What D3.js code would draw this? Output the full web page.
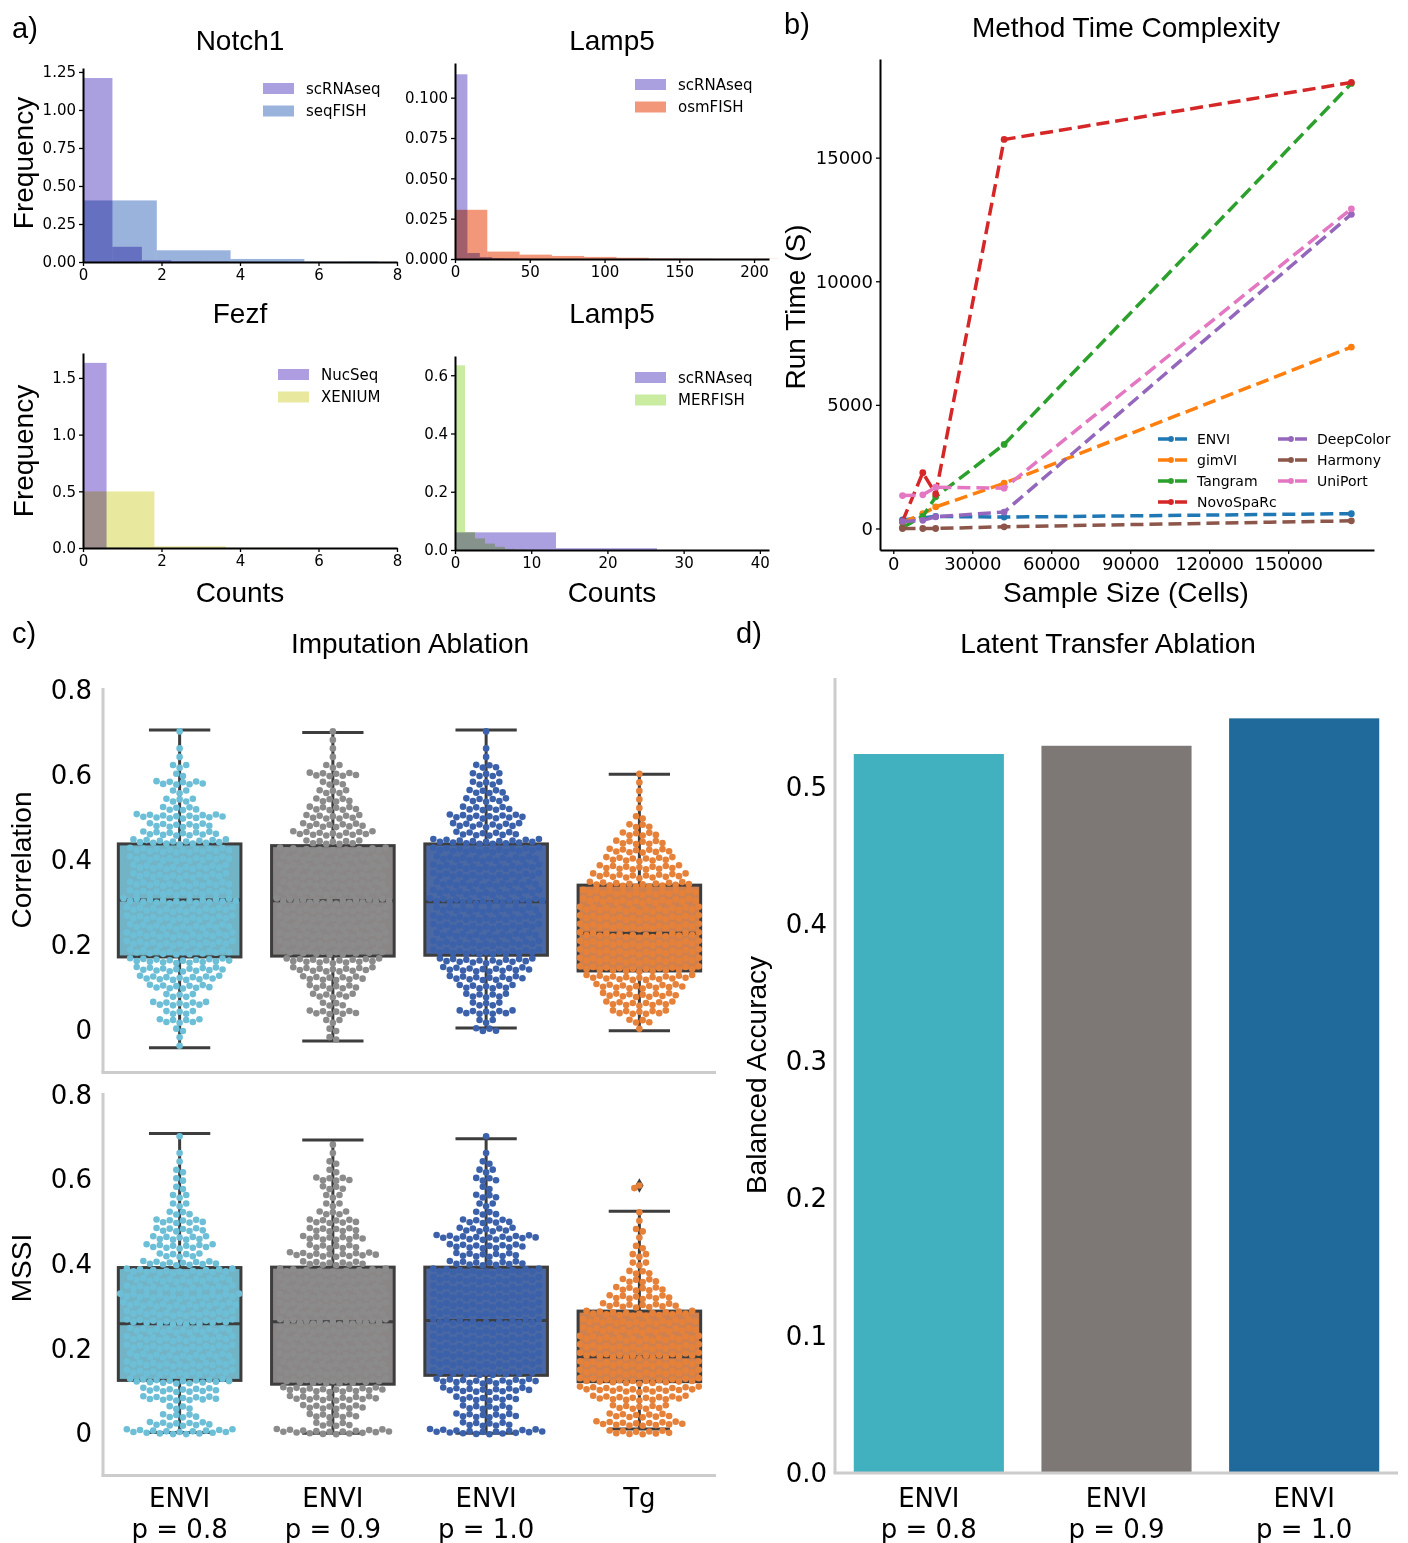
<!DOCTYPE html>
<html>
<head>
<meta charset="utf-8">
<script src="https://cdn.jsdelivr.net/npm/d3@7"></script>
<style>
  body { margin: 0; background: #fff; }
  svg { display: block; }
</style>
</head>
<body>
<script>
// ---------- panel a: histograms (bin edges + frequency per bin)
const notch1ScEdges = [0, 0.75, 1.5, 2.25, 3.0, 3.75, 4.5, 5.25, 6.0, 6.75, 7.5]
const notch1ScFreq = [1.21, 0.10, 0.012, 0.004, 0.002, 0.001, 0.001, 0, 0, 0.001]
const notch1SeqEdges = [0, 1.88, 3.76, 5.64, 7.52]
const notch1SeqFreq = [0.405, 0.077, 0.020, 0.003]

const lamp5ScEdges = [0, 8.3, 16.6, 24.9, 33.2, 41.5, 49.8, 58.1, 66.4, 74.7, 83]
const lamp5ScFreq = [0.1145, 0.0037, 0.0012, 0.0005, 0.0003, 0.0002, 0.0001, 0.0001, 0, 0.0001]
const lamp5OsmEdges = [0, 21.6, 43.2, 64.8, 86.4, 108, 129.6, 151.2, 172.8, 194.4, 216]
const lamp5OsmFreq = [0.0305, 0.0046, 0.0027, 0.0019, 0.0013, 0.0008, 0.0003, 0.0002, 0.0001, 0.0001]

const fezfNucEdges = [0, 0.6, 1.2, 1.8, 2.4, 3.0, 3.6, 4.2, 4.8, 5.4, 6.0]
const fezfNucFreq = [1.633, 0.002, 0.001, 0, 0, 0, 0, 0, 0, 0.0005]
const fezfXenEdges = [0, 1.82, 3.64, 5.46, 7.28]
const fezfXenFreq = [0.499, 0.015, 0.002, 0.0005]

const lamp5bScEdges = [0, 13.25, 26.5]
const lamp5bScFreq = [0.0606, 0.0062]
const lamp5bMerEdges = [0, 1.31, 2.62, 3.93, 5.24, 6.55, 7.86, 9.17, 10.48, 11.79, 13.1]
const lamp5bMerFreq = [0.634, 0.062, 0.040, 0.022, 0.011, 0.004, 0.002, 0.001, 0.0005, 0.0003]

// ---------- panel b: run time (s) vs sample size
const sampleSizes = [3500, 11200, 16100, 42100, 174000]
const methodNames = ['ENVI', 'gimVI', 'Tangram', 'NovoSpaRc', 'DeepColor', 'Harmony', 'UniPort']
const enviTime = [350, 420, 490, 460, 600]
const gimviTime = [245, 600, 870, 1830, 7340]
const tangramTime = [40, 490, 1280, 3400, 18000]
const novosparcTime = [285, 2255, 1400, 15735, 18040]
const deepcolorTime = [285, 330, 475, 665, 12710]
const harmonyTime = [0, 0, 0, 70, 310]
const uniportTime = [1330, 1360, 1670, 1630, 12930]

// ---------- panel c: box stats [low whisker, q1, median, q3, high whisker] + swarm counts per 0.02 bin
const ablationGroups = ['ENVI|p = 0.8', 'ENVI|p = 0.9', 'ENVI|p = 1.0', 'Tg']
const binStep = 0.02

const corrBoxes = [
  [-0.042, 0.172, 0.306, 0.438, 0.706],
  [-0.026, 0.174, 0.304, 0.434, 0.700],
  [0.005, 0.176, 0.302, 0.438, 0.706],
  [-0.002, 0.139, 0.228, 0.341, 0.602]
]
const corrStarts = [-0.04, -0.02, 0, 0]
const corrCounts = [
  [1, 1, 2, 7, 5, 9, 5, 10, 13, 14, 16, 16, 17, 17, 16, 17, 17, 18, 16, 16, 15, 15, 16, 16, 15, 12, 10, 14, 6, 5, 3, 8, 2, 3, 1, 1, 0, 1],
  [2, 2, 3, 8, 4, 7, 8, 10, 13, 15, 16, 17, 17, 16, 17, 17, 18, 17, 16, 16, 17, 16, 17, 9, 13, 10, 9, 8, 6, 5, 4, 8, 3, 1, 1, 1, 1],
  [4, 3, 9, 5, 7, 9, 12, 14, 15, 17, 17, 16, 17, 17, 16, 18, 17, 16, 17, 17, 16, 17, 17, 10, 11, 12, 8, 7, 6, 5, 5, 4, 1, 1, 0, 1],
  [1, 4, 9, 11, 12, 14, 17, 19, 19, 19, 19, 19, 19, 19, 19, 18, 18, 16, 15, 13, 11, 10, 8, 6, 4, 2, 1, 1, 1, 1, 1]
]

const mssiBoxes = [
  [0.002, 0.125, 0.259, 0.392, 0.709],
  [0.0, 0.116, 0.264, 0.393, 0.694],
  [0.0, 0.137, 0.267, 0.393, 0.697],
  [0.01, 0.122, 0.181, 0.289, 0.525]
]
const mssiOutliers = [[], [], [], [0.586, 0.58]]
const mssiStarts = [0, 0, 0, 0]
const mssiCounts = [
  [17, 10, 6, 4, 12, 12, 16, 17, 17, 16, 17, 17, 16, 17, 17, 18, 19, 17, 16, 17, 12, 7, 11, 9, 8, 8, 4, 3, 3, 2, 2, 2, 1, 1, 0, 1],
  [18, 6, 8, 10, 14, 16, 17, 17, 16, 17, 17, 16, 17, 17, 16, 17, 17, 16, 17, 17, 10, 14, 8, 10, 8, 8, 5, 3, 3, 4, 6, 2, 2, 1, 1],
  [18, 8, 10, 8, 10, 14, 16, 17, 17, 17, 17, 17, 17, 17, 17, 17, 17, 17, 17, 17, 12, 10, 12, 16, 9, 8, 4, 3, 4, 2, 4, 3, 2, 1, 0, 1],
  [10, 14, 10, 9, 15, 19, 19, 19, 19, 19, 19, 19, 18, 18, 17, 12, 10, 8, 6, 4, 3, 3, 2, 1, 2, 1, 1]
]

// ---------- panel d: balanced accuracy
const latentGroups = ['ENVI|p = 0.8', 'ENVI|p = 0.9', 'ENVI|p = 1.0']
const latentAccuracy = [0.524, 0.530, 0.550]

// ---------- drawing
const W = 1408
const H = 1543
const headFont = "'Liberation Sans', Arial, Helvetica, sans-serif"
const tickFont = "'DejaVu Sans', sans-serif"

const svg = d3.select('body').append('svg')
  .attr('width', W)
  .attr('height', H)
  .attr('viewBox', `0 0 ${W} ${H}`)

function label (x, y, text, size, opts = {}) {
  const t = svg.append('text')
    .attr('x', x)
    .attr('y', y)
    .attr('font-family', opts.family || headFont)
    .attr('font-size', size)
    .attr('text-anchor', opts.anchor || 'middle')
    .attr('fill', '#000')
    .text(text)
  if (opts.rotate) t.attr('transform', `rotate(-90,${x},${y})`)
  return t
}

function styleAxis (sel, size, family) {
  sel.attr('font-size', size).attr('font-family', family)
  sel.selectAll('text').attr('fill', '#000')
}

// panel letters
label(12, 38, 'a)', 29, { anchor: 'start' })
label(784, 34, 'b)', 29, { anchor: 'start' })
label(12, 643, 'c)', 29, { anchor: 'start' })
label(736, 643, 'd)', 29, { anchor: 'start' })

// ---------- panel a
const histPanels = [
  {
    title: 'Notch1', left: 83, right: 397, top: 68, bottom: 262, titleY: 50,
    xDomain: [0, 8], yDomain: [0, 1.276], xTicks: [0, 2, 4, 6, 8],
    yTicks: [0, 0.25, 0.5, 0.75, 1.0, 1.25], yFormat: '.2f',
    legendX: 263, legendY: 83, ylabelY: 163, xlabel: false,
    series: [
      { name: 'scRNAseq', color: '#aa9fdf', edges: notch1ScEdges, freq: notch1ScFreq },
      { name: 'seqFISH', color: '#99b3dc', edges: notch1SeqEdges, freq: notch1SeqFreq }
    ]
  },
  {
    title: 'Lamp5', left: 455, right: 769, top: 63, bottom: 259, titleY: 50,
    xDomain: [0, 210], yDomain: [0, 0.1215], xTicks: [0, 50, 100, 150, 200],
    yTicks: [0, 0.025, 0.05, 0.075, 0.1], yFormat: '.3f',
    legendX: 635, legendY: 79, ylabelY: null, xlabel: false,
    series: [
      { name: 'scRNAseq', color: '#aa9fdf', edges: lamp5ScEdges, freq: lamp5ScFreq },
      { name: 'osmFISH', color: '#f2977a', edges: lamp5OsmEdges, freq: lamp5OsmFreq }
    ]
  },
  {
    title: 'Fezf', left: 83, right: 397, top: 353, bottom: 548, titleY: 323,
    xDomain: [0, 8], yDomain: [0, 1.72], xTicks: [0, 2, 4, 6, 8],
    yTicks: [0, 0.5, 1.0, 1.5], yFormat: '.1f',
    legendX: 278, legendY: 369, ylabelY: 451, xlabel: true,
    series: [
      { name: 'NucSeq', color: '#ae9de0', edges: fezfNucEdges, freq: fezfNucFreq },
      { name: 'XENIUM', color: '#e8e89f', edges: fezfXenEdges, freq: fezfXenFreq }
    ]
  },
  {
    title: 'Lamp5', left: 455, right: 769, top: 356, bottom: 550, titleY: 323,
    xDomain: [0, 41.2], yDomain: [0, 0.666], xTicks: [0, 10, 20, 30, 40],
    yTicks: [0, 0.2, 0.4, 0.6], yFormat: '.1f',
    legendX: 635, legendY: 372, ylabelY: null, xlabel: true,
    series: [
      { name: 'scRNAseq', color: '#aa9fdf', edges: lamp5bScEdges, freq: lamp5bScFreq },
      { name: 'MERFISH', color: '#c9eca1', edges: lamp5bMerEdges, freq: lamp5bMerFreq }
    ]
  }
]

histPanels.forEach(p => {
  const x = d3.scaleLinear().domain(p.xDomain).range([p.left, p.right])
  const y = d3.scaleLinear().domain(p.yDomain).range([p.bottom, p.top])
  const g = svg.append('g')

  p.series.forEach(s => {
    g.append('g')
      .selectAll('rect')
      .data(s.freq)
      .join('rect')
      .style('mix-blend-mode', 'multiply')
      .attr('x', (d, i) => x(s.edges[i]))
      .attr('width', (d, i) => x(s.edges[i + 1]) - x(s.edges[i]))
      .attr('y', d => y(d))
      .attr('height', d => y(0) - y(d))
      .attr('fill', s.color)
  })

  const xa = g.append('g')
    .attr('transform', `translate(0,${p.bottom})`)
    .call(d3.axisBottom(x).tickValues(p.xTicks).tickFormat(d3.format('d')).tickSize(4).tickSizeOuter(0))
  const ya = g.append('g')
    .attr('transform', `translate(${p.left},0)`)
    .call(d3.axisLeft(y).tickValues(p.yTicks).tickFormat(d3.format(p.yFormat)).tickSize(4).tickSizeOuter(0))
  ;[xa, ya].forEach(a => {
    styleAxis(a, 15, tickFont)
    a.select('.domain').attr('stroke', '#000').attr('stroke-width', 2)
    a.selectAll('.tick line').attr('stroke', '#000').attr('stroke-width', 1.3)
  })

  label((p.left + p.right) / 2, p.titleY, p.title, 28)
  if (p.ylabelY) label(33, p.ylabelY, 'Frequency', 28, { rotate: true })
  if (p.xlabel) label((p.left + p.right) / 2, 602, 'Counts', 28)

  p.series.forEach((s, i) => {
    const ly = p.legendY + i * 22.5
    g.append('rect')
      .attr('x', p.legendX).attr('y', ly)
      .attr('width', 31).attr('height', 11)
      .attr('fill', s.color)
    label(p.legendX + 43, ly + 10.5, s.name, 15, { anchor: 'start', family: tickFont })
  })
})

// ---------- panel b
{
  const series = [enviTime, gimviTime, tangramTime, novosparcTime, deepcolorTime, harmonyTime, uniportTime]
  const colors = ['#1f77b4', '#ff7f0e', '#2ca02c', '#d62728', '#9467bd', '#8c564b', '#e377c2']
  const x = d3.scaleLinear().domain([-5050, 182600]).range([880, 1374])
  const y = d3.scaleLinear().domain([-870, 18990]).range([550, 59])
  const g = svg.append('g')

  const line = d3.line()
    .x((d, i) => x(sampleSizes[i]))
    .y(d => y(d))

  series.forEach((vals, k) => {
    g.append('path')
      .attr('d', line(vals))
      .attr('fill', 'none')
      .attr('stroke', colors[k])
      .attr('stroke-width', 3.5)
      .attr('stroke-dasharray', '13,6')
    g.append('g')
      .selectAll('path')
      .data(vals)
      .join('path')
      .attr('d', d3.symbol(d3.symbolCircle, 36))
      .attr('transform', (d, i) => `translate(${x(sampleSizes[i])},${y(d)})`)
      .attr('fill', colors[k])
  })

  const xa = g.append('g')
    .attr('transform', 'translate(0,550)')
    .call(d3.axisBottom(x).tickValues([0, 30000, 60000, 90000, 120000, 150000]).tickFormat(d3.format('d')).tickSize(4).tickSizeOuter(0))
  const ya = g.append('g')
    .attr('transform', 'translate(880,0)')
    .call(d3.axisLeft(y).tickValues([0, 5000, 10000, 15000]).tickFormat(d3.format('d')).tickSize(4).tickSizeOuter(0))
  ;[xa, ya].forEach(a => {
    styleAxis(a, 18, tickFont)
    a.select('.domain').attr('stroke', '#000').attr('stroke-width', 2)
    a.selectAll('.tick line').attr('stroke', '#000').attr('stroke-width', 1.3)
  })

  label(1126, 37, 'Method Time Complexity', 28)
  label(1126, 602, 'Sample Size (Cells)', 28)
  label(805, 307, 'Run Time (S)', 28, { rotate: true })

  methodNames.forEach((name, k) => {
    const col = k < 4 ? 0 : 1
    const row = k < 4 ? k : k - 4
    const lx = col === 0 ? 1158 : 1278
    const ly = 439 + row * 21
    g.append('line')
      .attr('x1', lx).attr('x2', lx + 30)
      .attr('y1', ly).attr('y2', ly)
      .attr('stroke', colors[k]).attr('stroke-width', 3.5)
      .attr('stroke-dasharray', '12,5')
    g.append('path')
      .attr('d', d3.symbol(d3.symbolCircle, 26))
      .attr('transform', `translate(${lx + 13},${ly})`)
      .attr('fill', colors[k])
    label(lx + 39, ly + 5, name, 14, { anchor: 'start', family: tickFont })
  })
}

// ---------- panel c
const boxFills = ['#73b3c6', '#8a8686', '#4a68a3', '#ce8150']
const dotFills = ['#6cbfd6', '#8c8b8b', '#3c61ab', '#e6813a']
const cLeft = 103
const cRight = 716
const dotGap = 6.6

function boxSwarm (cfg) {
  const x = d3.scaleBand().domain(ablationGroups).range([cLeft, cRight]).paddingInner(0.2).paddingOuter(0.1)
  const y = d3.scaleLinear().domain(cfg.domain).range([cfg.bottom, cfg.top])
  const bw = x.bandwidth()
  const cx = i => x(ablationGroups[i]) + bw / 2
  const g = svg.append('g')

  g.append('line')
    .attr('x1', cLeft).attr('x2', cLeft)
    .attr('y1', cfg.top).attr('y2', cfg.bottom)
    .attr('stroke', '#cccccc').attr('stroke-width', 3)
  g.append('line')
    .attr('x1', cLeft - 1.5).attr('x2', cRight)
    .attr('y1', cfg.bottom).attr('y2', cfg.bottom)
    .attr('stroke', '#cccccc').attr('stroke-width', 3)

  const ya = g.append('g')
    .attr('transform', `translate(${cLeft},0)`)
    .call(d3.axisLeft(y).tickValues([0, 0.2, 0.4, 0.6, 0.8]).tickSize(0).tickPadding(11)
      .tickFormat(d => d === 0 ? '0' : d3.format('.1f')(d)))
  ya.select('.domain').remove()
  styleAxis(ya, 26, tickFont)

  cfg.boxes.forEach((b, i) => {
    const [lo, q1, med, q3, hi] = b
    const c = cx(i)
    const stroke = '#3d3d3d'
    g.append('line').attr('x1', c).attr('x2', c).attr('y1', y(hi)).attr('y2', y(q3))
      .attr('stroke', stroke).attr('stroke-width', 3)
    g.append('line').attr('x1', c).attr('x2', c).attr('y1', y(q1)).attr('y2', y(lo))
      .attr('stroke', stroke).attr('stroke-width', 3)
    ;[hi, lo].forEach(v => {
      g.append('line').attr('x1', c - bw / 4).attr('x2', c + bw / 4).attr('y1', y(v)).attr('y2', y(v))
        .attr('stroke', stroke).attr('stroke-width', 3)
    })
    g.append('rect')
      .attr('x', x(ablationGroups[i])).attr('y', y(q3))
      .attr('width', bw).attr('height', y(q1) - y(q3))
      .attr('fill', boxFills[i]).attr('stroke', stroke).attr('stroke-width', 3)
    g.append('line').attr('x1', x(ablationGroups[i])).attr('x2', x(ablationGroups[i]) + bw)
      .attr('y1', y(med)).attr('y2', y(med))
      .attr('stroke', stroke).attr('stroke-width', 3)
    if (cfg.outliers && cfg.outliers[i].length) {
      g.append('path')
        .attr('d', d3.symbol(d3.symbolDiamond, 60))
        .attr('transform', `translate(${c},${y(cfg.outliers[i][0])})`)
        .attr('fill', stroke)
    }
  })

  // swarm rows: dots spread sideways from the centre, rows bend slightly upward at the sides
  const dots = []
  cfg.counts.forEach((arr, i) => {
    arr.forEach((n, j) => {
      const v = cfg.starts[i] + j * binStep
      for (let k = 0; k < n; k++) {
        const idx = k - (n - 1) / 2
        dots.push({ grp: i, v, off: idx * dotGap, dy: -0.35 * Math.abs(idx) + (k % 2 ? 1.2 : -1.2) })
      }
    })
    if (cfg.outliers) {
      cfg.outliers[i].forEach((v, k) => dots.push({ grp: i, v, off: k === 0 ? 0 : -5, dy: 0 }))
    }
  })
  g.append('g')
    .selectAll('circle')
    .data(dots)
    .join('circle')
    .attr('cx', d => cx(d.grp) + d.off)
    .attr('cy', d => y(d.v) + d.dy)
    .attr('r', 3.3)
    .attr('fill', d => dotFills[d.grp])

  if (cfg.showX) {
    ablationGroups.forEach((grp, i) => {
      const parts = grp.split('|')
      parts.forEach((t, r) => label(cx(i), 1507 + r * 31, t, 26, { family: tickFont }))
    })
  }
}

label(410, 653, 'Imputation Ablation', 28)
boxSwarm({
  top: 688, bottom: 1072.5, domain: [-0.1, 0.805],
  boxes: corrBoxes, starts: corrStarts, counts: corrCounts, showX: false
})
label(31, 860, 'Correlation', 28, { rotate: true })

boxSwarm({
  top: 1093, bottom: 1475.5, domain: [-0.1, 0.805],
  boxes: mssiBoxes, starts: mssiStarts, counts: mssiCounts, outliers: mssiOutliers, showX: true
})
label(31, 1268, 'MSSI', 28, { rotate: true })

// ---------- panel d
{
  const dLeft = 835
  const dRight = 1398
  const barColors = ['#41b1bf', '#7d7875', '#1f6a9a']
  const x = d3.scaleBand().domain(latentGroups).range([dLeft, dRight]).paddingInner(0.2).paddingOuter(0.1)
  const y = d3.scaleLinear().domain([0, 0.5794]).range([1473, 678])
  const g = svg.append('g')

  g.selectAll('rect')
    .data(latentAccuracy)
    .join('rect')
    .attr('x', (d, i) => x(latentGroups[i]))
    .attr('width', x.bandwidth())
    .attr('y', d => y(d))
    .attr('height', d => y(0) - y(d))
    .attr('fill', (d, i) => barColors[i])

  g.append('line')
    .attr('x1', dLeft).attr('x2', dLeft)
    .attr('y1', 678).attr('y2', 1473)
    .attr('stroke', '#cccccc').attr('stroke-width', 3)
  g.append('line')
    .attr('x1', dLeft - 1.5).attr('x2', dRight)
    .attr('y1', 1473).attr('y2', 1473)
    .attr('stroke', '#cccccc').attr('stroke-width', 3)

  const ya = g.append('g')
    .attr('transform', `translate(${dLeft},0)`)
    .call(d3.axisLeft(y).tickValues([0, 0.1, 0.2, 0.3, 0.4, 0.5]).tickSize(0).tickPadding(8)
      .tickFormat(d3.format('.1f')))
  ya.select('.domain').remove()
  styleAxis(ya, 26, tickFont)

  latentGroups.forEach(grp => {
    const c = x(grp) + x.bandwidth() / 2
    grp.split('|').forEach((t, r) => label(c, 1507 + r * 31, t, 26, { family: tickFont }))
  })

  label(1108, 653, 'Latent Transfer Ablation', 28)
  label(766, 1075, 'Balanced Accuracy', 28, { rotate: true })
}
</script>
</body>
</html>
